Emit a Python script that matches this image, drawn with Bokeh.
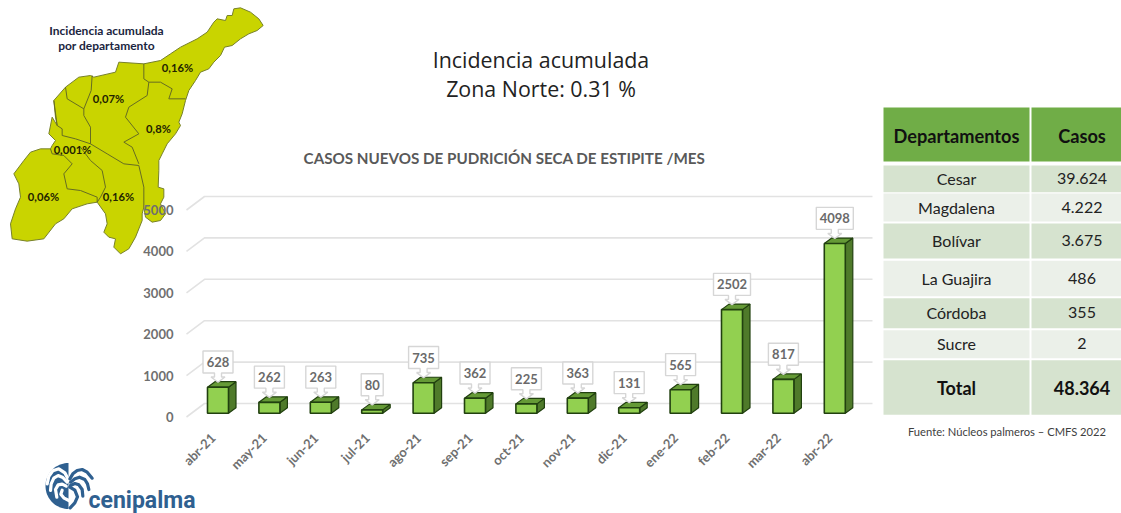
from bokeh.plotting import figure
from bokeh.embed import file_html
from bokeh.resources import INLINE
from bokeh.models import Range1d, FixedTicker, LinearAxis
from bokeh.core.properties import value
import numpy as np

months = ["abr-21","may-21","jun-21","jul-21","ago-21","sep-21","oct-21","nov-21","dic-21","ene-22","feb-22","mar-22","abr-22"]
casos = [628,262,263,80,735,362,225,363,131,565,2502,817,4098]
y_ticks = [0,1000,2000,3000,4000,5000]
departamentos = ["Cesar","Magdalena","Bolívar","La Guajira","Córdoba","Sucre"]
casos_dep = ["39.624","4.222","3.675","486","355","2"]
total_dep = "48.364"
map_labels = ["0,16%","0,07%","0,8%","0,001%","0,06%","0,16%"]

W, H = 1121, 513
FL, FR, FT, FB = 180, 875, 190, 421   # chart frame, px
X0, DX = 217.5, 51.4        # first category and step, px
Y0, PXK = 416.5, 0.0414     # y=0 and px per unit
FONT = "Lato"
STACK = {"position": "absolute", "left": "0px", "top": "0px"}

# ---------- background sheet: map, titles, table, logo ----------
bg = figure(width=W, height=H, output_backend="svg", toolbar_location=None,
            x_range=Range1d(0, W), y_range=Range1d(H, 0), x_axis_type=None, y_axis_type=None,
            min_border=0, styles=STACK)
bg.outline_line_color = None
bg.grid.visible = False
bg.border_fill_color = "white"
bg.background_fill_color = "white"

def label(x, y, t, size, color="#222222", style="normal", align="center", font=FONT):
    bg.text([x], [y], text=[t], text_font=value(font), text_font_size=f"{size}px", text_color=color,
            text_font_style=style, text_align=align, text_baseline="middle")

def box(l, r, t, b, color):
    bg.quad(left=[l], right=[r], top=[t], bottom=[b], fill_color=color, line_color=None)

label(540.5, 59, "Incidencia acumulada", 21.4, font="Open Sans")
label(540.5, 88, "Zona Norte: 0.31 %", 21.4, font="Open Sans")
label(504, 157, "CASOS NUEVOS DE PUDRICIÓN SECA DE ESTIPITE /MES", 15.2, "#595959", "bold")

c1l, c1r, c2l, c2r = 883, 1029, 1031, 1121
c1m, c2m = 956, 1081.5
rows = [(165,191.7),(193,221),(223,258),(260.3,295.7),(297.7,327.7),(329.7,357.7)]
box(c1l, c1r, 107, 161, "#70ad47"); box(c2l, c2r, 107, 161, "#70ad47")
label(c1m, 135, "Departamentos", 18.2, "#111111", "bold")
label(c2m, 135, "Casos", 18.2, "#111111", "bold")
for i, ((a, b), d, n) in enumerate(zip(rows, departamentos, casos_dep)):
    col = "#d6e3cf" if i % 2 == 0 else "#ebf0e9"
    box(c1l, c1r, a, b, col); box(c2l, c2r, a, b, col)
    label(c1m, (a+b)/2-0.5, d, 16)
    label(c2m, (a+b)/2-0.5, n, 16)
box(c1l, c1r, 359.7, 414.3, "#d6e3cf"); box(c2l, c2r, 359.7, 414.3, "#d6e3cf")
label(c1m, 387, "Total", 18, "#111111", "bold")
label(c2m, 387, total_dep, 18, "#111111", "bold")
label(1006.5, 431, "Fuente: Núcleos palmeros – CMFS 2022", 11.2, "#404040")

outline = [(700,25),(720,22),(750,35),(775,55),(788,75),(770,90),(745,100),(720,115),(695,135),(672,140),(660,165),(640,185),(625,205),(600,215),(585,240),(565,270),(555,300),(545,340),(535,365),(540,375),(525,400),(500,430),(485,460),(475,480),(475,510),(473,560),(490,565),(490,590),(480,610),(495,640),(480,660),(455,665),(435,650),(430,620),(425,640),(425,660),(405,710),(385,745),(360,760),(340,740),(345,715),(325,710),(310,695),(320,670),(315,640),(290,605),(260,610),(215,625),(190,655),(165,670),(130,715),(80,722),(35,715),(30,670),(45,625),(60,590),(55,550),(40,520),(70,480),(90,455),(120,445),(150,445),(155,435),(165,420),(145,400),(155,350),(170,375),(165,350),(160,300),(195,260),(235,230),(270,225),(280,230),(345,215),(355,185),(430,190),(480,180),(510,160),(540,140),(590,115),(620,95),(640,65),(650,55),(675,60),(680,45),(695,45)]
borders = [
 [(430,190),(430,235),(445,245),(480,245),(515,265),(505,295),(555,295)],
 [(445,245),(440,285),(385,320),(375,350),(415,400),(370,425),(395,440),(415,490)],
 [(275,225),(272,270),(250,325),(200,295),(195,260)],
 [(250,325),(250,345),(270,380),(270,430),(320,460),(370,490),(415,495),(430,560),(430,620)],
 [(160,300),(170,375),(185,385),(185,405),(225,415),(270,430)],
 [(150,445),(155,460),(190,465),(215,490),(190,520),(200,565),(240,570),(290,590),(290,605)],
 [(240,440),(270,480),(305,510),(315,560),(300,590),(290,605)],
]
bg.patch([a/3 for a, _ in outline], [b/3 for _, b in outline], fill_color="#c9d400", line_color="#77802a", line_width=1)
bg.multi_line([[a/3 for a, _ in l] for l in borders], [[b/3 for _, b in l] for l in borders], line_color="#666c22", line_width=1)
for (x, y), t in zip([(177,67),(108,98),(158,128),(72,149),(43,196),(118,196)], map_labels):
    label(x, y, t, 11.2, "#222200", "bold")
label(106, 30, "Incidencia acumulada", 12, "#1b2540", "bold")
label(106, 45, "por departamento", 12, "#1b2540", "bold")

# logo
BLUE = "#2f6090"
t = np.linspace(np.pi/2, 3*np.pi/2, 40)
bg.patch(68+23*np.cos(t), 485.5+23*np.sin(t), fill_color=BLUE, line_color=None)
white_fronds = [[(100,75),(88,52),(70,40),(52,46),(40,62),(35,85)],
                [(95,80),(82,66),(68,60),(55,68),(47,85),(45,105)],
                [(92,92),(80,86),(68,88),(60,102),(64,125)],
                [(100,135),(86,128),(76,116),(80,104)]]
blue_fronds = [[(103,70),(112,55),(125,45),(140,42),(155,50),(170,68)],
               [(105,80),(118,70),(132,65),(148,72),(156,85),(160,102)],
               [(105,90),(118,84),(130,88),(140,102),(142,122)],
               [(103,95),(118,104),(126,124),(118,142),(104,157)]]
for lines, col in ((white_fronds, "white"), (blue_fronds, BLUE)):
    bg.multi_line([[35+a/3 for a, _ in l] for l in lines], [[455+b/3 for _, b in l] for l in lines],
                  line_color=col, line_width=3.2, line_cap="round", line_join="round")
label(88, 500, "cenipalma", 23, BLUE, "bold", "left", font="Roboto")

# ---------- chart sheet, transparent, on top ----------
p = figure(width=W, height=H, output_backend="svg", toolbar_location=None,
           x_range=Range1d((FL-X0)/DX, (FR-X0)/DX),
           y_range=Range1d((Y0-FB)/PXK, (Y0-FT)/PXK),
           x_axis_type=None,
           min_border_left=FL, min_border_right=W-FR,
           min_border_top=FT, min_border_bottom=H-FB, styles=STACK)
p.outline_line_color = None
p.background_fill_color = None
p.border_fill_color = None
p.ygrid.visible = False

LAB_SHIFT = 5/DX
p.extra_x_ranges["lab"] = Range1d((FL-X0)/DX+LAB_SHIFT, (FR-X0)/DX+LAB_SHIFT)
xa = LinearAxis(x_range_name="lab")
p.add_layout(xa, "below")
ya = p.yaxis[0]
ya.ticker = FixedTicker(ticks=y_ticks)
ya.axis_line_color = None; ya.major_tick_line_color = None; ya.minor_tick_line_color = None
ya.major_label_text_font = FONT; ya.major_label_text_font_size = "13px"
ya.major_label_text_font_style = "bold"; ya.major_label_text_color = "#6f6f6f"
ya.major_label_standoff = 1
xa.ticker = FixedTicker(ticks=list(range(len(months))))
xa.major_label_overrides = {i: m for i, m in enumerate(months)}
xa.axis_line_color = None; xa.major_tick_line_color = None; xa.minor_tick_line_color = None
xa.major_label_orientation = np.pi/4
xa.major_label_text_font = FONT; xa.major_label_text_font_size = "13px"
xa.major_label_text_font_style = "bold"; xa.major_label_text_color = "#6f6f6f"
xa.major_label_standoff = 8

wall_dx, wall_dy = 18/DX, 13.5/PXK
grid_end = (872-X0)/DX
axis_x = (186-X0)/DX
for tk in y_ticks:
    p.line([axis_x, axis_x+wall_dx, grid_end], [tk, tk+wall_dy, tk+wall_dy], line_color="#e2e2e2", line_width=1.6)

bw = 21/DX; dep_x = 7.5/DX; dep_y = 5.5/PXK; base = 3.8/PXK
xs = np.arange(len(casos)); v = np.array(casos, dtype=float)
top = v + base
edge = "#21400f"
p.patches([[x+bw/2, x+bw/2+dep_x, x+bw/2+dep_x, x+bw/2] for x in xs],
          [[base, base+dep_y, tp+dep_y, tp] for tp in top],
          fill_color="#4f7a2a", line_color=edge, line_width=1.2)
p.patches([[x-bw/2, x-bw/2+dep_x, x+bw/2+dep_x, x+bw/2] for x in xs],
          [[tp, tp+dep_y, tp+dep_y, tp] for tp in top],
          fill_color="#659a36", line_color=edge, line_width=1.2)
p.vbar(x=xs, bottom=base, top=top, width=bw, fill_color="#92d050", line_color=edge, line_width=1.6)

cx, cy, txt_x, txt_y, labels = [], [], [], [], []
for x, tp, c in zip(xs, top, casos):
    s = str(c); hw = (18.5 if len(s) == 4 else 15 if len(s) == 3 else 11)/DX
    b = tp + 14.2/PXK; h = 22/PXK
    a1, a2, sh = 3.5/DX, 7/DX, 4/PXK
    tip = tp + 5/PXK
    cx.append([x-hw, x+hw, x+hw, x+a1, x+a1, x+a2, x, x-a2, x-a1, x-a1, x-hw])
    cy.append([b+h, b+h, b, b, b-sh, b-sh, tip, b-sh, b-sh, b, b])
    txt_x.append(x); txt_y.append(b+h/2); labels.append(s)
p.patches(cx, cy, fill_color="white", line_color="#d6d6d6", line_width=1.4)
p.text(txt_x, txt_y, text=labels, text_align="center", text_baseline="middle",
       text_font=value(FONT), text_font_style="bold", text_font_size="13px", text_color="#6a6a6a")

open("out.html", "w").write(file_html([bg, p], INLINE))
